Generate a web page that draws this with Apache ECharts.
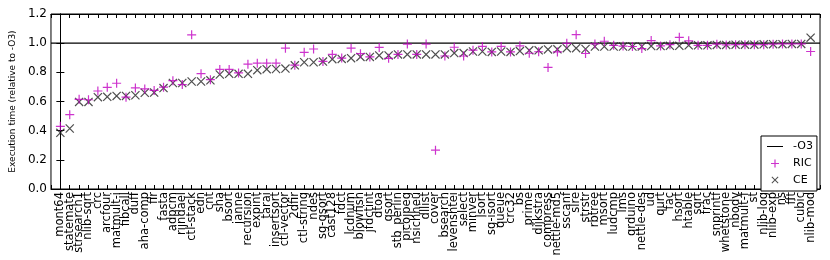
<!DOCTYPE html>
<html>
<head>
<meta charset="utf-8">
<script src="https://cdn.jsdelivr.net/npm/echarts@6/dist/echarts.min.js"></script>
<style>
html,body{margin:0;padding:0;background:#fff;}
#chart{width:830px;height:260px;}
</style>
</head>
<body>
<div id="chart"></div>
<script>
const categories = ["mont64","statemate","strsearch1","nlib-sqrt","crc","arcfour","matmult-i","fibcall","duff","aha-comp",
"fir","fasta","adpcm","rijndael","ctl-stack","edn","cnt","sha","bsort","janne",
"recursion","expint","tarai","insertsort","ctl-vector","2dfir","ctl-string","ndes","sg-qsort","cast128",
"fdct","lcdnum","blowfish","jfdctint","dtoa","qsort","stb_perlin","picojpeg","nsichneu","dllist",
"cover","bsearch","levenshtei","select","minver","lsort","sg-isort","queue","crc32","bs",
"prime","dijkstra","compress","nettle-md5","sscanf","slre","strstr","rbtree","msort","ludcmp",
"lms","qrduino","nettle-des","ud","qurt","fac","hsort","htable","sqrt","frac",
"snprintf","whetstone","nbody","matmult-f","st","nlib-log","nlib-exp","ns","fft","cubic","nlib-mod"];

const ricValues = [0.43,0.51,0.615,0.612,0.672,0.697,0.725,0.630,0.693,0.686,
0.676,0.698,0.743,0.716,1.057,0.791,0.750,0.820,0.820,0.796,
0.856,0.863,0.863,0.863,0.966,0.849,0.937,0.960,0.875,0.923,
0.898,0.966,0.928,0.906,0.971,0.896,0.923,0.994,0.923,0.994,
0.266,0.912,0.972,0.912,0.952,0.978,0.940,0.978,0.940,0.982,
0.931,0.941,0.834,0.940,0.999,1.058,0.929,0.995,1.013,0.985,
0.980,0.977,0.963,1.018,0.981,0.990,1.040,1.016,0.985,0.985,
0.993,0.988,0.990,0.990,0.990,0.990,0.993,0.995,0.995,0.995,0.943];

const ceValues = [0.385,0.415,0.597,0.597,0.630,0.632,0.638,0.638,0.643,0.660,
0.661,0.692,0.727,0.727,0.737,0.737,0.745,0.785,0.790,0.790,
0.790,0.815,0.822,0.823,0.826,0.848,0.869,0.869,0.874,0.890,
0.892,0.897,0.906,0.906,0.916,0.916,0.923,0.923,0.923,0.923,
0.923,0.923,0.932,0.932,0.943,0.943,0.940,0.943,0.940,0.946,
0.951,0.951,0.957,0.958,0.966,0.966,0.960,0.977,0.977,0.977,
0.977,0.977,0.977,0.980,0.980,0.982,0.982,0.985,0.985,0.985,
0.988,0.988,0.990,0.990,0.990,0.992,0.993,0.993,0.995,0.995,1.038];

const baselineValue = 1.0;

const FONT = "DejaVu Sans";
const MAGENTA = "#c000c0";
const ANCH = "M0,0h0.01v0.01h-0.01Z M22,10h-0.01v-0.01h0.01Z ";
const plusPath = "path://M0,4.4H9V5.6H0Z M3.9,0.5H5.1V9.5H3.9Z";
const crossPath = "path://M0,0.85L0.85,0L9,8.15L8.15,9Z M8.15,0L9,0.85L0.85,9L0,8.15Z";
const legLine = "path://" + ANCH + "M3,4.5H19V5.5H3Z";
const legPlus = "path://" + ANCH + "M7,4.4H15V5.6H7Z M10.4,1H11.6V9H10.4Z";
const legCross = "path://" + ANCH + "M7.5,1.7L8.2,1L14.5,7.3L13.8,8Z M13.8,1L14.5,1.7L8.2,8L7.5,7.3Z";

const chart = echarts.init(document.getElementById('chart'), null, {renderer:'canvas'});
const xBase = {
  type:'value', min:-1, max:categories.length, interval:1,
  splitLine:{show:false},
  axisLine:{show:true, onZero:false, lineStyle:{color:'#000', width:1}},
  axisTick:{show:true, inside:true, length:4, lineStyle:{color:'#000'}}
};
chart.setOption({
  animation:false,
  textStyle:{fontFamily:FONT},
  grid:{left:41, right:10, top:14, bottom:71, show:true, borderColor:'#000', borderWidth:1},
  legend:{
    orient:'vertical', left:761, top:136,
    padding:[5,4,5,3], itemGap:6, itemWidth:22, itemHeight:10,
    borderColor:'#000', borderWidth:1, backgroundColor:'#fff',
    textStyle:{fontFamily:FONT, fontSize:11, color:'#000', padding:[0,0,0,2]},
    data:[{name:'-O3', icon:legLine},{name:'RIC', icon:legPlus},{name:'CE', icon:legCross}]
  },
  xAxis:[
    Object.assign({}, xBase, {
      position:'bottom',
      axisLabel:{rotate:90, fontFamily:FONT, fontSize:11.5, color:'#000', margin:3, hideOverlap:false,
        formatter:function(v){ return (v>=0 && v<categories.length && Number.isInteger(v)) ? categories[v] : ''; }}
    }),
    Object.assign({}, xBase, {position:'top', axisLabel:{show:false}})
  ],
  yAxis:[
    {type:'value', min:0, max:1.2, interval:0.2, position:'left',
     name:'Execution time (relative to -O3)', nameLocation:'middle', nameGap:27,
     nameTextStyle:{fontFamily:FONT, fontSize:9, color:'#000'},
     splitLine:{show:false},
     axisLine:{show:true, lineStyle:{color:'#000'}},
     axisTick:{show:true, inside:true, length:4, lineStyle:{color:'#000'}},
     axisLabel:{fontFamily:FONT, fontSize:12, color:'#000', margin:4,
       formatter:function(v){ return v.toFixed(1); }}},
    {type:'value', min:0, max:1.2, interval:0.2, position:'right',
     splitLine:{show:false},
     axisLine:{show:true, lineStyle:{color:'#000'}},
     axisTick:{show:true, inside:true, length:4, lineStyle:{color:'#000'}},
     axisLabel:{show:false}}
  ],
  series:[
    {name:'-O3', type:'line', xAxisIndex:0, yAxisIndex:0, showSymbol:false, symbol:'none',
     color:'#000', lineStyle:{color:'#000', width:1.2},
     data:[[-1, baselineValue],[categories.length, baselineValue]], z:1},
    {name:'RIC', type:'scatter', symbol:plusPath, symbolSize:9, color:MAGENTA,
     itemStyle:{color:MAGENTA},
     data:ricValues.map(function(v,i){return [i,v];}), z:3},
    {name:'CE', type:'scatter', symbol:crossPath, symbolSize:9, color:'#000',
     itemStyle:{color:'#222'},
     data:ceValues.map(function(v,i){return [i,v];}), z:2}
  ]
});
</script>
</body>
</html>
